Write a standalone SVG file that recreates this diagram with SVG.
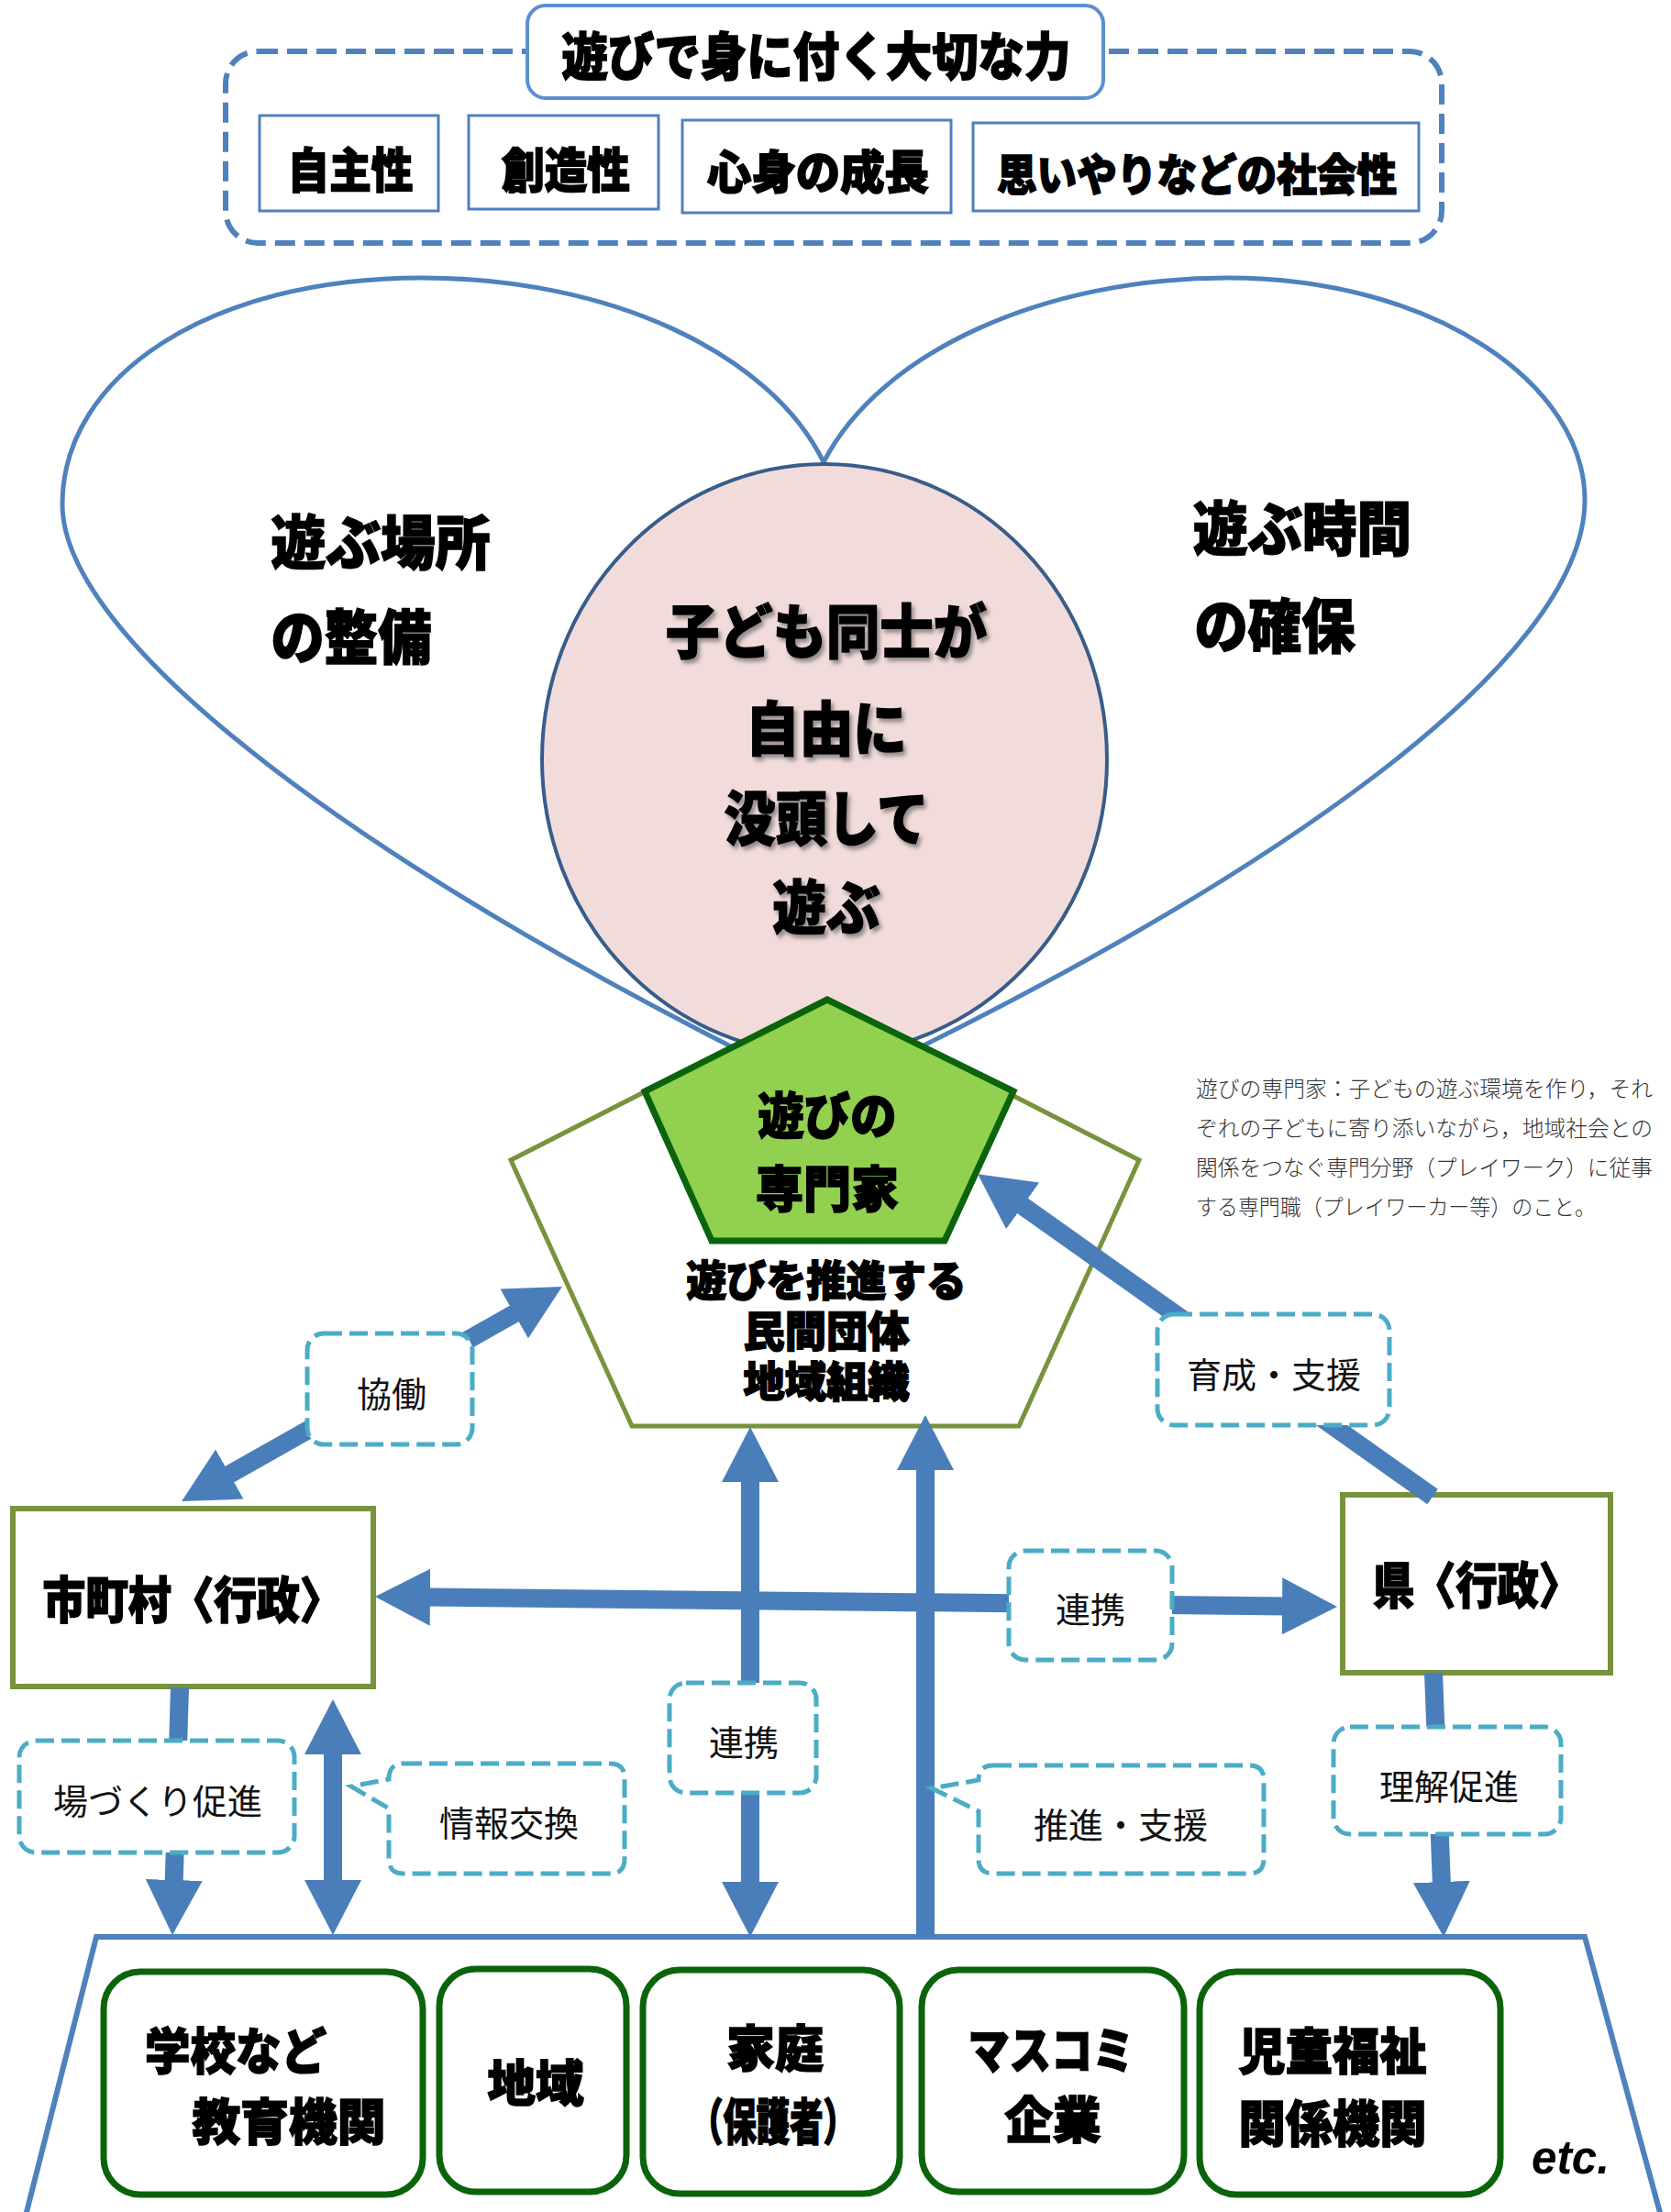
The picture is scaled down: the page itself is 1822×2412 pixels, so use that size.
<svg xmlns="http://www.w3.org/2000/svg" width="1822" height="2412" viewBox="0 0 1822 2412">
<style>
.hv{font-family:"Noto Sans CJK JP","Noto Sans CJK SC",sans-serif;font-weight:900;fill:#000;stroke:#000;stroke-width:1.6;text-anchor:middle;dominant-baseline:central}
.lb{font-family:"Noto Sans CJK JP","Noto Sans CJK SC",sans-serif;font-weight:400;font-size:38px;fill:#111;text-anchor:middle;dominant-baseline:central}
.df{font-family:"Noto Sans CJK JP","Noto Sans CJK SC",sans-serif;font-weight:300;font-size:24px;fill:#333;dominant-baseline:central}
.lbox{fill:#fff;stroke:#4BACC6;stroke-width:5;stroke-dasharray:20 8}
.sbox{fill:#fff;stroke:#4F81BD;stroke-width:3}
.gbox{fill:#fff;stroke:#77933C;stroke-width:6}
.bbox{fill:#fff;stroke:#0B640B;stroke-width:7}
.arr{stroke:#4A7EBB;stroke-width:20;fill:none}
</style>
<defs>
<marker id="ah" markerUnits="userSpaceOnUse" markerWidth="60" markerHeight="62" refX="5" refY="31" orient="auto-start-reverse" viewBox="0 0 60 62">
<path d="M0,0 L60,31 L0,62 Z" fill="#4A7EBB"/>
</marker>
<filter id="sh" x="-10%" y="-10%" width="130%" height="140%">
<feDropShadow dx="3" dy="4" stdDeviation="2" flood-color="#555" flood-opacity="0.6"/>
</filter>
</defs>
<rect width="1822" height="2412" fill="#fff"/>

<g id="top-frame">
<rect x="246" y="56" width="1326" height="209" rx="35" fill="#fff" stroke="#4F81BD" stroke-width="6" stroke-dasharray="22 10"/>
</g>
<g id="title">
<rect x="575" y="6" width="628" height="101" rx="20" fill="#fff" stroke="#5B8FD0" stroke-width="4"/>
<text class="hv" x="890" y="57" font-size="56" textLength="555" lengthAdjust="spacingAndGlyphs">遊びで身に付く大切な力</text>
</g>
<g id="jishusei">
<rect class="sbox" x="283" y="126" width="195" height="104"/>
<text class="hv" x="382" y="182" font-size="52" textLength="137" lengthAdjust="spacingAndGlyphs">自主性</text>
</g>
<g id="souzousei">
<rect class="sbox" x="511" y="126" width="207" height="102"/>
<text class="hv" x="617" y="182" font-size="52" textLength="140" lengthAdjust="spacingAndGlyphs">創造性</text>
</g>
<g id="shinshin">
<rect class="sbox" x="744" y="131" width="293" height="101"/>
<text class="hv" x="892" y="184" font-size="50" textLength="242" lengthAdjust="spacingAndGlyphs">心身の成長</text>
</g>
<g id="shakaisei">
<rect class="sbox" x="1061" y="134" width="486" height="96"/>
<text class="hv" x="1305" y="187" font-size="48" textLength="436" lengthAdjust="spacingAndGlyphs">思いやりなどの社会性</text>
</g>

<g id="heart">
<path d="M898,504 C840,385 665,303 460,303 C228,303 68,410 68,550 C68,700 398,950 900,1192" fill="none" stroke="#4F81BD" stroke-width="5"/>
<path d="M898,504 C960,383 1140,303 1338,303 C1565,303 1728,420 1728,545 C1728,720 1390,960 900,1192" fill="none" stroke="#4F81BD" stroke-width="5"/>
<text class="hv" x="415" y="587" font-size="64" textLength="239" lengthAdjust="spacingAndGlyphs">遊ぶ場所</text>
<text class="hv" x="383" y="690" font-size="64" textLength="175" lengthAdjust="spacingAndGlyphs">の整備</text>
<text class="hv" x="1420" y="572" font-size="64" textLength="238" lengthAdjust="spacingAndGlyphs">遊ぶ時間</text>
<text class="hv" x="1390" y="678" font-size="64" textLength="175" lengthAdjust="spacingAndGlyphs">の確保</text>
</g>

<g id="center-circle">
<ellipse cx="899" cy="828" rx="308" ry="322" fill="#F2DCDB" stroke="#385D8A" stroke-width="4"/>
<g filter="url(#sh)">
<text class="hv" x="901" y="684" font-size="64" textLength="350" lengthAdjust="spacingAndGlyphs">子ども同士が</text>
<text class="hv" x="901" y="790" font-size="64" textLength="176" lengthAdjust="spacingAndGlyphs">自由に</text>
<text class="hv" x="901" y="888" font-size="64" textLength="223" lengthAdjust="spacingAndGlyphs">没頭して</text>
<text class="hv" x="901" y="985" font-size="64" textLength="117" lengthAdjust="spacingAndGlyphs">遊ぶ</text>
</g>
</g>

<g id="minkan">
<polygon points="900,1090 1242,1265 1111,1555 689,1555 557,1265" fill="#fff" stroke="#77933C" stroke-width="5"/>
<text class="hv" x="901" y="1393" font-size="46" textLength="305" lengthAdjust="spacingAndGlyphs">遊びを推進する</text>
<text class="hv" x="901" y="1448" font-size="46" textLength="181" lengthAdjust="spacingAndGlyphs">民間団体</text>
<text class="hv" x="901" y="1503" font-size="46" textLength="181" lengthAdjust="spacingAndGlyphs">地域組織</text>
</g>
<g id="senmonka">
<polygon points="902,1090 1105,1190 1030,1353 776,1353 703,1190" fill="#92D050" stroke="#0B640B" stroke-width="7" stroke-linejoin="miter"/>
<text class="hv" x="902" y="1213" font-size="54" textLength="151" lengthAdjust="spacingAndGlyphs">遊びの</text>
<text class="hv" x="902" y="1293" font-size="54" textLength="156" lengthAdjust="spacingAndGlyphs">専門家</text>
</g>

<g id="definition">
<text class="df" x="1304" y="1185" textLength="498" lengthAdjust="spacingAndGlyphs">遊びの専門家：子どもの遊ぶ環境を作り，それ</text>
<text class="df" x="1304" y="1228" textLength="498" lengthAdjust="spacingAndGlyphs">ぞれの子どもに寄り添いながら，地域社会との</text>
<text class="df" x="1304" y="1271" textLength="498" lengthAdjust="spacingAndGlyphs">関係をつなぐ専門分野（プレイワーク）に従事</text>
<text class="df" x="1304" y="1314" textLength="436" lengthAdjust="spacingAndGlyphs">する専門職（プレイワーカー等）のこと。</text>
</g>

<g id="shichoson">
<rect class="gbox" x="14" y="1645" width="393" height="194"/>
<text class="hv" x="210" y="1741" font-size="54" textLength="327" lengthAdjust="spacingAndGlyphs">市町村〈行政〉</text>
</g>
<g id="ken">
<rect class="gbox" x="1464" y="1630" width="292" height="194"/>
<text class="hv" x="1610" y="1725" font-size="54" textLength="226" lengthAdjust="spacingAndGlyphs">県〈行政〉</text>
</g>

<g id="community">
<path d="M27,2420 L105,2112 L1728,2112 L1812,2420" fill="#fff" stroke="#4F81BD" stroke-width="6" stroke-linejoin="miter"/>
</g>
<g id="school">
<rect class="bbox" x="113" y="2150" width="348" height="243" rx="40"/>
<text class="hv" x="257" y="2233" font-size="54" textLength="198" lengthAdjust="spacingAndGlyphs">学校など</text>
<text class="hv" x="315" y="2310" font-size="54" textLength="211" lengthAdjust="spacingAndGlyphs">教育機関</text>
</g>
<g id="chiiki">
<rect class="bbox" x="479" y="2147" width="204" height="243" rx="40"/>
<text class="hv" x="584" y="2268" font-size="54" textLength="105" lengthAdjust="spacingAndGlyphs">地域</text>
</g>
<g id="katei">
<rect class="bbox" x="701" y="2148" width="280" height="244" rx="40"/>
<text class="hv" x="845" y="2230" font-size="54" textLength="106" lengthAdjust="spacingAndGlyphs">家庭</text>
<text class="hv" x="843" y="2310" font-size="54" textLength="182" lengthAdjust="spacingAndGlyphs">（保護者）</text>
</g>
<g id="masukomi">
<rect class="bbox" x="1005" y="2148" width="286" height="242" rx="40"/>
<text class="hv" x="1146" y="2232" font-size="54" textLength="181" lengthAdjust="spacingAndGlyphs">マスコミ</text>
<text class="hv" x="1148" y="2308" font-size="54" textLength="105" lengthAdjust="spacingAndGlyphs">企業</text>
</g>
<g id="jidou">
<rect class="bbox" x="1308" y="2150" width="328" height="243" rx="40"/>
<text class="hv" x="1453" y="2233" font-size="54" textLength="205" lengthAdjust="spacingAndGlyphs">児童福祉</text>
<text class="hv" x="1453" y="2312" font-size="54" textLength="205" lengthAdjust="spacingAndGlyphs">関係機関</text>
</g>
<g id="etc">
<text x="1670" y="2370" font-family="Liberation Sans, Arial, sans-serif" font-weight="700" font-style="italic" font-size="52" textLength="85" lengthAdjust="spacingAndGlyphs" fill="#000">etc.</text>
</g>

<g id="connectors">
<line class="arr" x1="464" y1="1741.6" x2="1403" y2="1751.4" marker-start="url(#ah)" marker-end="url(#ah)"/>
<line class="arr" x1="818" y1="1611" x2="818" y2="2057" marker-start="url(#ah)" marker-end="url(#ah)"/>
<line class="arr" x1="1009" y1="2112" x2="1009" y2="1598" marker-end="url(#ah)"/>
<line class="arr" x1="363" y1="1908" x2="363" y2="2055" marker-start="url(#ah)" marker-end="url(#ah)"/>
<line class="arr" x1="196" y1="1840" x2="189.6" y2="2055" marker-end="url(#ah)"/>
<line class="arr" x1="1563" y1="1824" x2="1572" y2="2057" marker-end="url(#ah)"/>
<line class="arr" x1="246" y1="1610" x2="565" y2="1430" marker-start="url(#ah)" marker-end="url(#ah)"/>
<line class="arr" x1="1562" y1="1632" x2="1111" y2="1312" marker-end="url(#ah)"/>
</g>

<g id="label-kyoudou">
<rect class="lbox" x="335" y="1454" width="180" height="121" rx="18"/>
<text class="lb" x="427" y="1517">協働</text>
</g>
<g id="label-ikusei">
<rect class="lbox" x="1262" y="1433" width="253" height="121" rx="18"/>
<text class="lb" x="1389" y="1496">育成・支援</text>
</g>
<g id="label-renkei-h">
<rect class="lbox" x="1100" y="1691" width="178" height="119" rx="18"/>
<text class="lb" x="1189" y="1752">連携</text>
</g>
<g id="label-renkei-v">
<rect class="lbox" x="730" y="1835" width="160" height="120" rx="18"/>
<text class="lb" x="811" y="1897">連携</text>
</g>
<g id="label-bazukuri">
<rect class="lbox" x="21" y="1898" width="300" height="122" rx="18"/>
<text class="lb" x="172" y="1961">場づくり促進</text>
</g>
<g id="label-jouhou">
<path class="lbox" d="M440,1923 H665 Q681,1923 681,1939 V2027 Q681,2043 665,2043 H440 Q424,2043 424,2027 V1972 L383,1948 L424,1940 Q424,1923 440,1923 Z"/>
<text class="lb" x="555" y="1985">情報交換</text>
</g>
<g id="label-suishin">
<path class="lbox" d="M1083,1925 H1362 Q1378,1925 1378,1941 V2027 Q1378,2043 1362,2043 H1083 Q1067,2043 1067,2027 V1975 L1016,1950 L1067,1941 Q1067,1925 1083,1925 Z"/>
<text class="lb" x="1222" y="1987">推進・支援</text>
</g>
<g id="label-rikai">
<rect class="lbox" x="1454" y="1883" width="248" height="117" rx="18"/>
<text class="lb" x="1580" y="1945">理解促進</text>
</g>
</svg>
